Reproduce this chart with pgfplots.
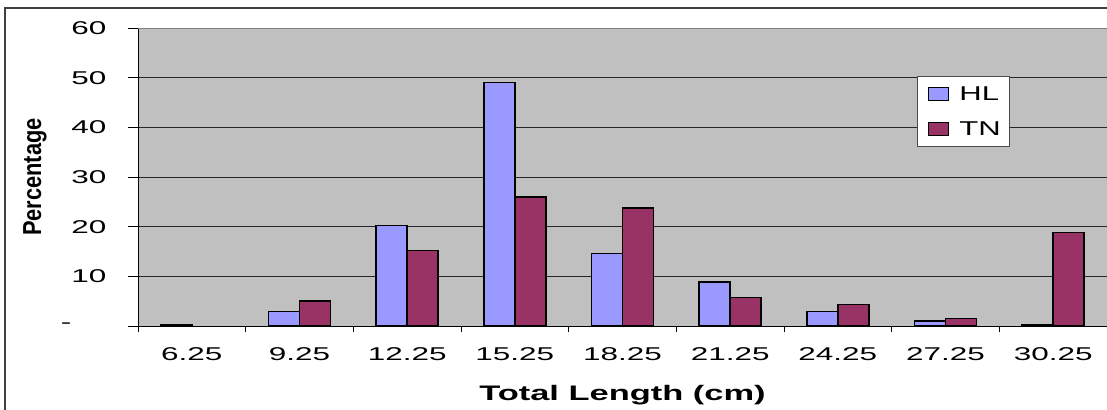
\documentclass[border=0pt]{standalone}
\usepackage{pgfplots}
\pgfplotsset{compat=1.18}
\usepackage{fontspec}
\setmainfont{Liberation Sans}
\definecolor{hl}{HTML}{9999FF}
\definecolor{tn}{HTML}{993366}
\definecolor{bg}{HTML}{C0C0C0}
\newcommand{\sx}[1]{\scalebox{1.7}[1]{#1}}
\newcommand{\lx}[1]{\scalebox{1.55}[1]{#1}}
\begin{document}
\begin{tikzpicture}
\useasboundingbox (0,0) rectangle (1107bp,410bp);
\fill[white] (0,0) rectangle (1107bp,410bp);
\draw[line width=1.2bp, black!75] (5bp,-20bp) rectangle (1130bp,402bp);
\begin{axis}[
  at={(138bp,84bp)}, anchor=south west,
  scale only axis, width=969bp, height=298bp,
  xmin=-0.5, xmax=8.5, ymin=0, ymax=60,
  ybar=0pt, bar width=31bp,
  axis background/.style={fill=bg},
  axis lines*=left,
  axis line style={black, line width=0.8bp},
  tick align=outside,
  tick style={black, line width=0.8bp},
  major tick length=10bp, minor tick length=6bp,
  xtick={0,...,8},
  xticklabels={\sx{6.25},\sx{9.25},\sx{12.25},\sx{15.25},\sx{18.25},\sx{21.25},\sx{24.25},\sx{27.25},\sx{30.25}},
  major x tick style={draw=none},
  minor xtick={-0.5,0.5,1.5,2.5,3.5,4.5,5.5,6.5,7.5,8.5},
  ytick={0,10,20,30,40,50},
  yticklabels={\sx{-\hspace{20.6bp}},\sx{10},\sx{20},\sx{30},\sx{40},\sx{50}},
  extra y ticks={60},
  extra y tick labels={\sx{60}},
  extra y tick style={grid style={black!50, line width=0.8bp}},
  ymajorgrids, grid style={black!85, line width=0.8bp},
  ticklabel style={font=\fontsize{18.5bp}{20bp}\selectfont},
  xticklabel style={yshift=-8bp},
  yticklabel style={anchor=east, xshift=-18bp},
  xlabel={\scalebox{1.64}[1]{Total Length (cm)}},
  xlabel style={at={(axis description cs:0.5,-0.2315)}, anchor=center, font=\bfseries\fontsize{21bp}{24bp}\selectfont},
  ylabel={\scalebox{0.84}[1]{Percentage}},
  ylabel style={at={(axis description cs:-0.1063,0.5)}, anchor=center, font=\bfseries\fontsize{26bp}{28bp}\selectfont},
  legend style={at={(axis description cs:0.8039,0.8389)}, anchor=north west,
    draw=black!70, line width=0.8bp, fill=white, font=\fontsize{20bp}{22bp}\selectfont,
    inner xsep=0pt, inner ysep=0pt, row sep=0pt, column sep=0pt,
    nodes={inner sep=0pt, anchor=west}},
  legend cell align=left,
  legend image code/.code={
    \path[draw=none, fill=none] (0bp,-17.5bp) rectangle (42bp,17.5bp);
    \draw[#1, line width=1.5bp] (11bp,-6.5bp) rectangle (31bp,6.5bp);},
]
\addplot[fill=hl, draw=black, line width=1.5bp] coordinates {(0,0.3) (1,2.9) (2,20.2) (3,49.0) (4,14.6) (5,8.9) (6,2.9) (7,1.0) (8,0.2)};
\addplot[fill=tn, draw=black, line width=1.5bp] coordinates {(1,5.0) (2,15.2) (3,26.0) (4,23.8) (5,5.7) (6,4.3) (7,1.5) (8,18.8)};
\legend{\lx{HL}\kern9bp\strut,\lx{TN}\kern9bp\strut}
\end{axis}
\end{tikzpicture}
\end{document}
